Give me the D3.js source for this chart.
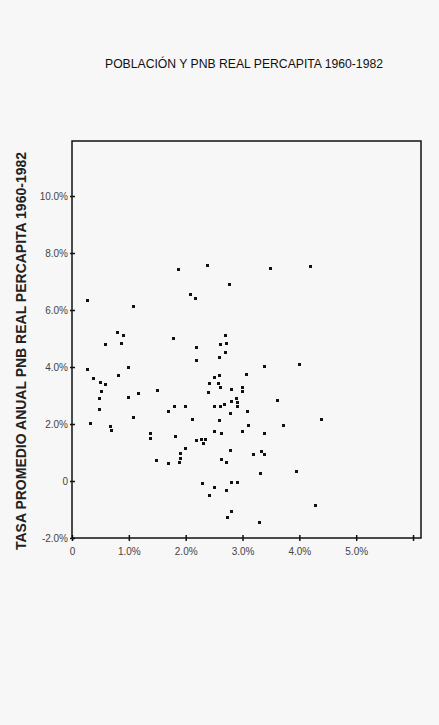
<!DOCTYPE html>
<html>
<head>
<meta charset="utf-8">
<script src="https://cdn.jsdelivr.net/npm/d3@7"></script>
<style>
  body { margin: 0; background: #f7f7f7; }
  svg { display: block; font-family: "Liberation Sans", Arial, sans-serif; }
</style>
</head>
<body>
<div id="chart"></div>
<script>
var width = 439;
var height = 725;

// population growth (%) per country
var poblacion = [1.875, 0.265, 1.076, 2.076, 2.175, 0.794, 0.905, 0.594, 0.870, 1.794,
  2.182, 2.182, 0.270, 0.993, 0.370, 0.817, 0.494, 0.587, 0.517, 1.504,
  1.176, 0.988, 0.489, 0.476, 1.081, 1.811, 2.005, 1.705, 2.122, 0.323,
  0.675, 0.688, 1.388, 1.388, 1.817, 2.187, 1.998, 1.905, 1.910, 1.892,
  1.494, 1.705, 2.386, 3.492, 4.203, 2.764, 2.693, 2.721, 2.605, 2.693,
  2.587, 3.381, 4.009, 3.069, 2.593, 2.499, 2.411, 2.580, 2.616, 2.799,
  2.998, 2.998, 2.399, 2.892, 3.610, 2.804, 2.915, 2.675, 2.510, 2.616,
  2.910, 3.092, 2.792, 2.593, 3.104, 3.721, 4.392, 2.504, 2.628, 2.998,
  3.392, 2.280, 2.346, 2.305, 2.792, 3.333, 3.198, 3.392, 2.633, 2.721,
  3.321, 3.951, 2.293, 2.810, 2.905, 2.504, 2.721, 2.416, 4.280, 2.810,
  2.728, 3.293];

// real GNP per capita growth (%)
var pnb = [7.42, 6.32, 6.14, 6.54, 6.42, 5.21, 5.10, 4.78, 4.84, 4.99,
  4.69, 4.22, 3.91, 4.00, 3.59, 3.71, 3.44, 3.38, 3.15, 3.16,
  3.08, 2.94, 2.89, 2.52, 2.23, 2.62, 2.62, 2.43, 2.15, 2.02,
  1.91, 1.76, 1.67, 1.50, 1.56, 1.42, 1.15, 0.96, 0.78, 0.65,
  0.71, 0.63, 7.56, 7.44, 7.51, 6.89, 5.11, 4.82, 4.78, 4.51,
  4.33, 4.02, 4.10, 3.72, 3.70, 3.62, 3.41, 3.41, 3.27, 3.20,
  3.29, 3.15, 3.12, 2.90, 2.83, 2.78, 2.75, 2.69, 2.62, 2.62,
  2.62, 2.43, 2.36, 2.14, 1.96, 1.94, 2.15, 1.74, 1.68, 1.73,
  1.66, 1.45, 1.45, 1.31, 1.06, 1.05, 0.92, 0.92, 0.74, 0.64,
  0.25, 0.32, -0.10, -0.06, -0.05, -0.24, -0.34, -0.50, -0.85, -1.07,
  -1.27, -1.46];

var xTicks = [0, 1, 2, 3, 4, 5, 6];
var yTicks = [-2, 0, 2, 4, 6, 8, 10];

var data = poblacion.map(function(d, i) { return {x: d, y: pnb[i]}; });

var svg = d3.select("#chart")
    .append("svg")
    .attr("width", width)
    .attr("height", height);

var margin = ({top: 141, right: 18, bottom: 187, left: 72});

var x = d3.scaleLinear().domain([0, 6.14]).range([margin.left, width - margin.right]);
var y = d3.scaleLinear().domain([-2, 11.93]).range([height - margin.bottom, margin.top]);

function fmt(d) { return d === 0 ? "0" : d.toFixed(1) + "%"; }

// frame
svg.append("rect")
    .attr("x", x(0))
    .attr("y", y(11.93))
    .attr("width", x(6.14) - x(0))
    .attr("height", y(-2) - y(11.93))
    .attr("fill", "none")
    .attr("stroke", "#111")
    .attr("stroke-width", 1.5);

// x axis
var xAxis = svg.append("g")
    .attr("transform", "translate(0," + y(-2) + ")")
    .call(d3.axisBottom(x)
        .tickValues(xTicks)
        .tickSize(3)
        .tickFormat(function(d) { return d === 6 ? "" : fmt(d); }));
xAxis.select(".domain").remove();
xAxis.selectAll(".tick line").attr("y1", -3).attr("stroke", "#111").attr("stroke-width", 1.5);
xAxis.selectAll("text")
    .attr("y", 10)
    .attr("fill", "#444")
    .style("font-size", "10px");

// y axis
var yAxis = svg.append("g")
    .attr("transform", "translate(" + x(0) + ",0)")
    .call(d3.axisLeft(y)
        .tickValues(yTicks)
        .tickSize(2)
        .tickFormat(fmt));
yAxis.select(".domain").remove();
yAxis.selectAll(".tick line").attr("x1", 3).attr("x2", -2).attr("stroke", "#111").attr("stroke-width", 1.5);
yAxis.selectAll("text")
    .attr("x", -4)
    .attr("fill", "#444")
    .style("font-size", "10px");

// points
svg.append("g")
  .selectAll("rect")
  .data(data)
  .enter().append("rect")
    .attr("x", function(d) { return Math.round(x(d.x) - 1.5); })
    .attr("y", function(d) { return Math.round(y(d.y) - 1.5); })
    .attr("width", 3)
    .attr("height", 3)
    .attr("fill", "#111")
    .attr("shape-rendering", "crispEdges");

// title
svg.append("text")
    .attr("x", 244)
    .attr("y", 68)
    .attr("text-anchor", "middle")
    .style("font-size", "12.2px")
    .attr("fill", "#111")
    .text("POBLACIÓN Y PNB REAL PERCAPITA 1960-1982");

// y label
svg.append("text")
    .attr("transform", "translate(26,351) rotate(-90)")
    .attr("text-anchor", "middle")
    .style("font-size", "14px")
    .style("font-weight", "bold")
    .attr("fill", "#222")
    .text("TASA PROMEDIO ANUAL PNB REAL PERCAPITA 1960-1982");
</script>
</body>
</html>
